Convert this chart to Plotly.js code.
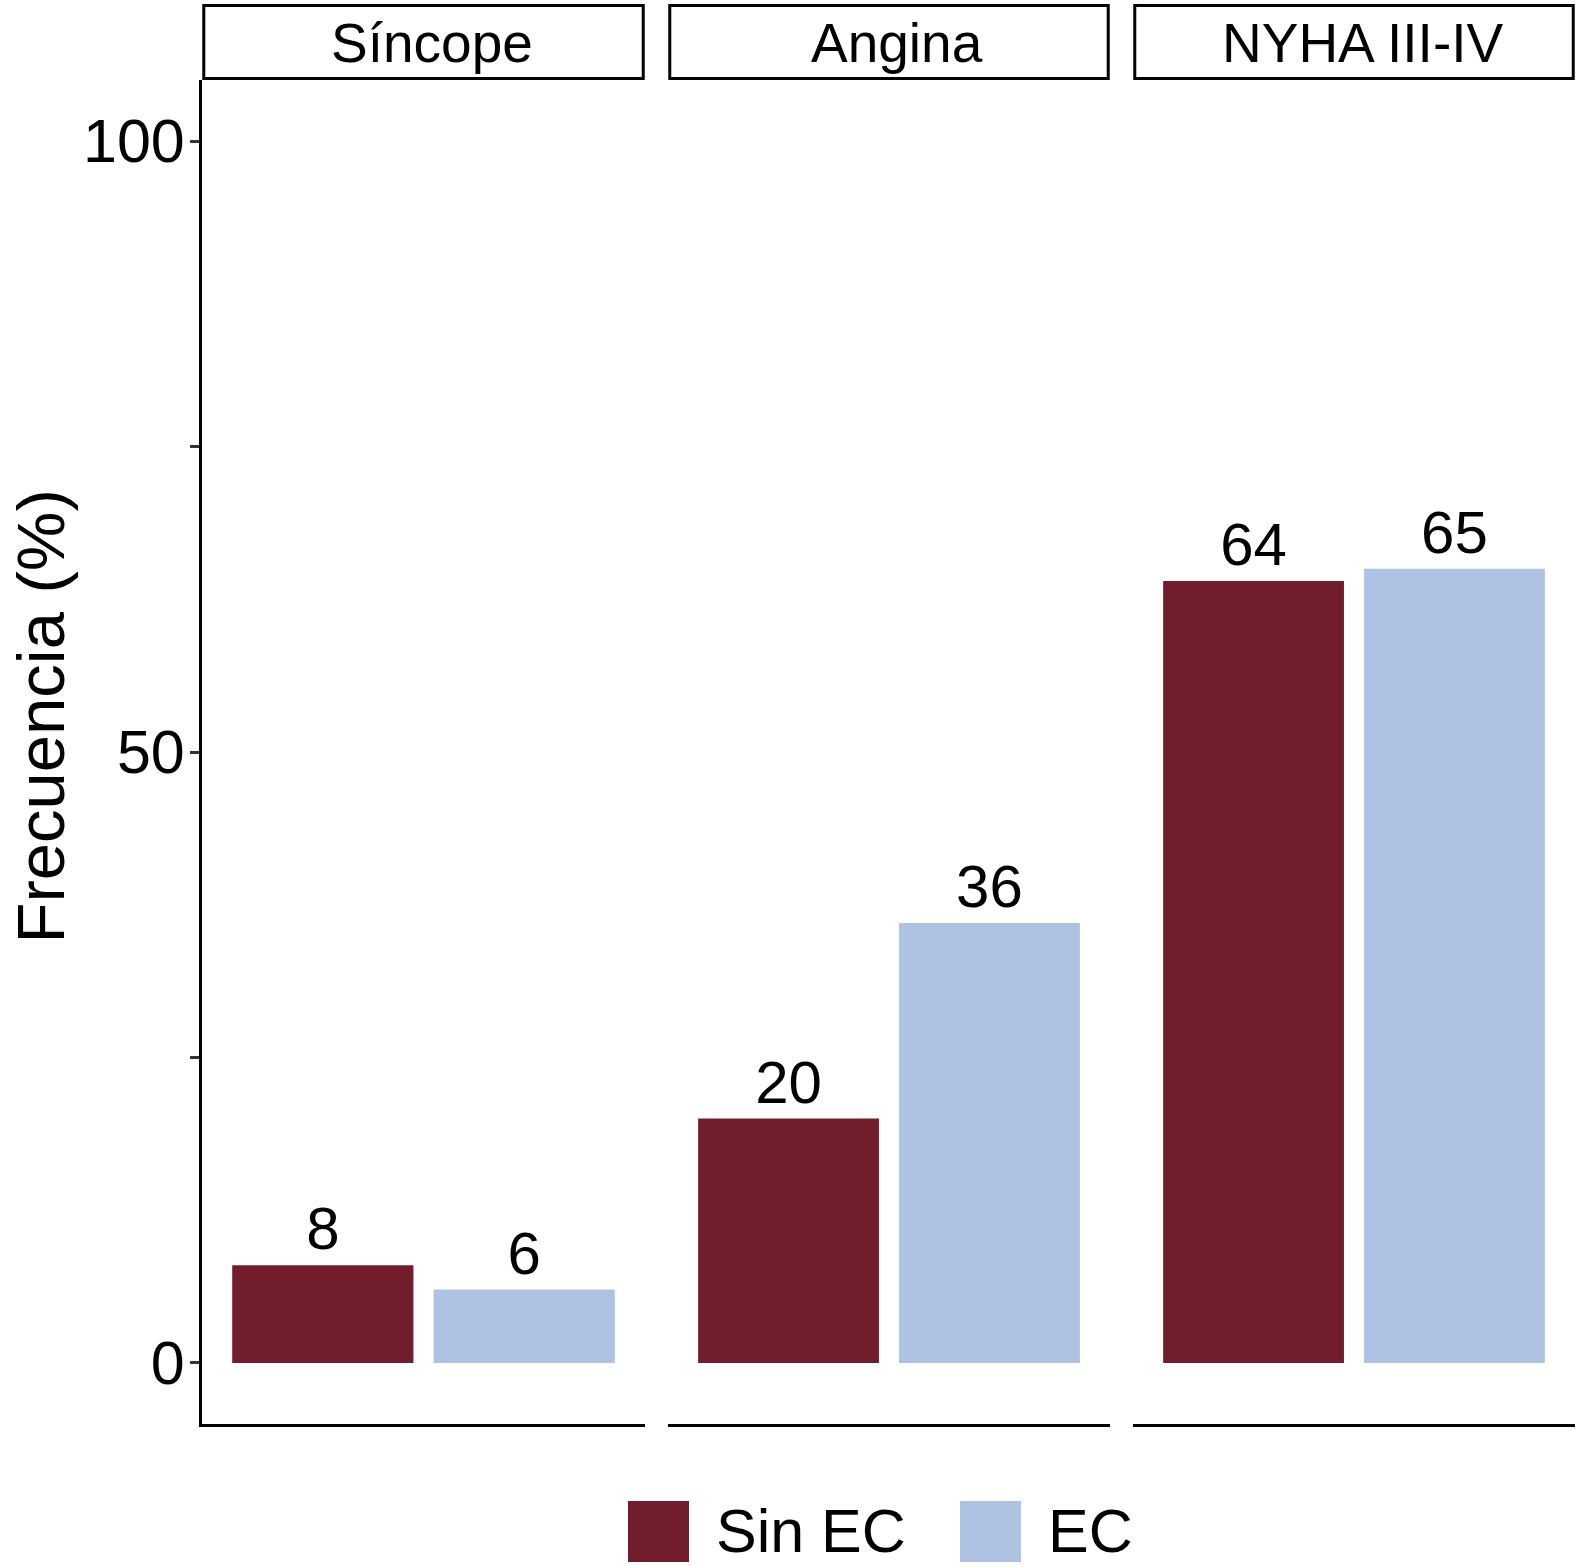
<!DOCTYPE html>
<html>
<head>
<meta charset="utf-8">
<script src="https://cdn.plot.ly/plotly-3.0.1.min.js"></script>
<style>
  html, body { margin: 0; padding: 0; background: #fff; }
  #chart { width: 1580px; height: 1566px; }
</style>
</head>
<body>
<div id="chart"></div>
<script>
// data
const facets = ['Síncope', 'Angina', 'NYHA III-IV'];
const groups = ['Sin EC', 'EC'];
const sinEC = [8, 20, 64];
const ec = [6, 36, 65];
const yTickVals = [0, 25, 50, 75, 100];
const yTickText = ['0', '', '50', '', '100'];
const yTitle = 'Frecuencia (%)';

const colors = { 'Sin EC': '#721D2E', 'EC': '#AEC2E4' };
const FONT = '"Liberation Sans", Arial, Helvetica, sans-serif';

// pixel geometry of the plot box (left, right, top, bottom)
const W = 1580, H = 1566;
const L = 202, R = 1575, T = 80, B = 1424;
const px = x => (x - L) / (R - L);
const py = y => (B - y) / (B - T);

const domains = [[px(202), px(645)], [px(668), px(1110)], [px(1133), px(1575)]];

const traces = [];
facets.forEach((f, i) => {
    const ax = i === 0 ? 'x' : 'x' + (i + 1);
    [sinEC, ec].forEach((vals, g) => {
        traces.push({
            type: 'bar',
            name: groups[g],
            x: [groups[g]],
            y: [vals[i]],
            xaxis: ax,
            yaxis: 'y',
            width: 0.9,
            marker: { color: colors[groups[g]], line: { width: 0 } },
            text: [String(vals[i])],
            textposition: 'outside',
            textfont: { family: FONT, size: 60, color: '#000' },
            cliponaxis: false,
            showlegend: false,
            hovertemplate: f + ' - ' + groups[g] + ': %{y}<extra></extra>'
        });
    });
});

const layout = {
    width: W,
    height: H,
    margin: { l: L, r: W - R, t: T, b: H - B },
    paper_bgcolor: '#fff',
    plot_bgcolor: '#fff',
    barmode: 'overlay',
    showlegend: false,
    font: { family: FONT, color: '#000' },
    yaxis: {
        anchor: 'x',
        range: [-5, 105],
        tickvals: yTickVals,
        ticktext: yTickText,
        ticks: 'outside',
        ticklen: 9,
        tickwidth: 2.5,
        tickcolor: '#333',
        ticklabelstandoff: -7,
        tickfont: { family: FONT, size: 61, color: '#000' },
        showline: true,
        linecolor: '#000',
        linewidth: 3,
        showgrid: false,
        zeroline: false
    },
    shapes: [],
    annotations: []
};

facets.forEach((f, i) => {
    const key = i === 0 ? 'xaxis' : 'xaxis' + (i + 1);
    const ref = i === 0 ? 'x' : 'x' + (i + 1);
    layout[key] = {
        domain: domains[i],
        anchor: 'y',
        type: 'category',
        categoryarray: groups,
        range: [-0.6, 1.6],
        showticklabels: false,
        ticks: '',
        showline: true,
        linecolor: '#000',
        linewidth: 3,
        showgrid: false,
        zeroline: false
    };
    // facet strip
    layout.shapes.push({
        type: 'rect',
        xref: ref + ' domain', yref: 'paper',
        x0: 0.004, x1: 0.996,
        y0: py(78.5), y1: py(5.5),
        line: { color: '#000', width: 3 },
        fillcolor: '#fff'
    });
    layout.annotations.push({
        xref: ref + ' domain', yref: 'paper',
        x: 0.5, y: py(43),
        xshift: 8,
        xanchor: 'center', yanchor: 'middle',
        text: f,
        showarrow: false,
        font: { family: FONT, size: 55, color: '#000' }
    });
});

// y axis title
layout.annotations.push({
    xref: 'paper', yref: 'paper',
    x: px(0), y: py(717),
    xanchor: 'left', yanchor: 'middle',
    textangle: -90,
    text: yTitle,
    showarrow: false,
    font: { family: FONT, size: 67, color: '#000' }
});

// legend drawn as keys + labels at the bottom
const legendKeys = [
    { name: groups[0], x0: 628, textX: 714 },
    { name: groups[1], x0: 960, textX: 1046 }
];
legendKeys.forEach(k => {
    layout.shapes.push({
        type: 'rect', xref: 'paper', yref: 'paper',
        x0: px(k.x0), x1: px(k.x0 + 61),
        y0: py(1562), y1: py(1501),
        line: { width: 0 },
        fillcolor: colors[k.name]
    });
    layout.annotations.push({
        xref: 'paper', yref: 'paper',
        x: px(k.textX), y: py(1531),
        xanchor: 'left', yanchor: 'middle',
        text: k.name,
        showarrow: false,
        font: { family: FONT, size: 61, color: '#000' }
    });
});

Plotly.newPlot('chart', traces, layout, { displayModeBar: false, responsive: false });
</script>
</body>
</html>
